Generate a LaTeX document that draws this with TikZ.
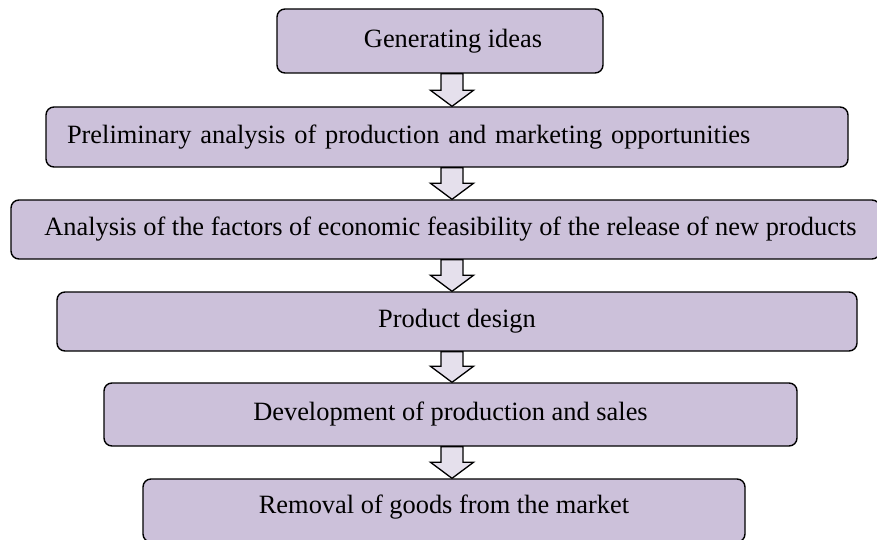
\documentclass[tikz,border=0pt]{standalone}
\usepackage{fontspec}
\setmainfont{Liberation Serif}
\usetikzlibrary{calc}
\definecolor{boxfill}{HTML}{CCC1DA}
\definecolor{arrfill}{HTML}{E5E0EC}
\tikzset{
  stagebox/.style={draw=black, line width=1.4pt, fill=boxfill, rounded corners=8pt,
    inner sep=0pt, font=\fontsize{26.4}{30}\selectfont, text=black},
  blockarrow/.style={draw=black, line width=1.3pt, fill=arrfill, line join=miter},
}
\newcommand{\blockarr}[2]{%
  \draw[blockarrow] ($(#1.south -| ax)+(-11,0)$) -- ($(#1.south -| ax)+(11,0)$)
    -- ($(#2.north -| ax)+(11,-16)$) -- ($(#2.north -| ax)+(21.5,-16)$)
    -- (#2.north -| ax) -- ($(#2.north -| ax)+(-21.5,-16)$)
    -- ($(#2.north -| ax)+(-11,-16)$) -- cycle;}
\begin{document}
\begin{tikzpicture}[x=1pt,y=-1pt]
\useasboundingbox (0,0) rectangle (877,540);
\coordinate (ax) at (452,0);
\node[stagebox, minimum width=326pt, minimum height=64pt] (b1) at (440,41) {\hspace*{26pt}Generating ideas};
\node[stagebox, minimum height=60pt, text width=760pt, inner xsep=21pt, align=left] (b2) at (447,137) {Preliminary analysis of production and marketing opportunities};
\node[stagebox, minimum width=869pt, minimum height=59pt] (b3) at (445.5,229.5) {\hspace*{10pt}Analysis of the factors of economic feasibility of the release of new products};
\node[stagebox, minimum width=800pt, minimum height=59pt] (b4) at (457,321.5) {Product design};
\node[stagebox, minimum width=693pt, minimum height=63pt] (b5) at (450.5,414.5) {Development of production and sales};
\node[stagebox, minimum width=602pt, minimum height=63pt, text depth=12pt] (b6) at (444,510.5) {Removal of goods from the market};
\blockarr{b1}{b2}
\blockarr{b2}{b3}
\blockarr{b3}{b4}
\blockarr{b4}{b5}
\blockarr{b5}{b6}
\end{tikzpicture}
\end{document}
